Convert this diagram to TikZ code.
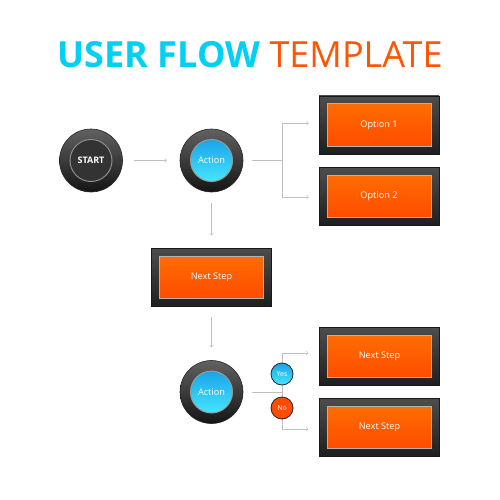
\documentclass[tikz,border=0pt]{standalone}
\usepackage{fontspec}
\setmainfont{Open Sans}
\usepackage{tikz}
\definecolor{titC}{HTML}{00D0F4}
\definecolor{titO}{HTML}{FF5500}
\definecolor{actT}{HTML}{1AA4E8}
\definecolor{actB}{HTML}{44E6FF}
\definecolor{orT}{HTML}{FF6C00}
\definecolor{orB}{HTML}{FF4C00}

\begin{document}
\begin{tikzpicture}[x=1pt,y=-1pt,
  ring/.style={circle,minimum size=63pt,inner sep=0pt,top color=black!62,bottom color=black!92,draw=black!85,line width=.6pt},
  knob/.style={circle,minimum size=42pt,inner sep=0pt,fill=black!80,draw=black!45,line width=1pt,text=white,font=\fontsize{9}{10}\selectfont\bfseries},
  act/.style={circle,minimum size=42pt,inner sep=0pt,top color=actT,bottom color=actB,draw=black!40,line width=1pt,text=white,font=\fontsize{9.2}{10}\selectfont},
  frame/.style={minimum width=120pt,minimum height=58pt,inner sep=0pt,top color=black!70,bottom color=black!88,draw=black!90},
  plate/.style={minimum width=104pt,minimum height=42pt,inner sep=0pt,top color=orT,bottom color=orB,draw=black!30,line width=1pt,text=white,font=\fontsize{9.2}{10}\selectfont},
  tag/.style={circle,minimum size=22pt,inner sep=0pt,draw=black!85,line width=.8pt,text=white,font=\fontsize{7}{8}\selectfont},
  line/.style={draw=black!25,line width=.6pt},
  conn/.style={line,->}]
\useasboundingbox[fill=white] (0,0) rectangle (500,500);
\node[anchor=base] (t) at (250,68) {\fontsize{36}{40}\selectfont\textbf{\color{titC}USER FLOW} \color{titO}TEMPLATE};
\node[ring] (s) at (91,160.5) {};
\node[knob] (sk) at (s) {START};
\node[ring] (a) at (211.5,160.5) {};
\node[act] (ak) at (a) {Action};
\node[frame] (o1) at (379,125) {};
\node[plate] (o1p) at (o1) {Option 1};
\node[frame] (o2) at (379,196) {};
\node[plate] (o2p) at (o2) {Option 2};
\node[frame] (n) at (211.5,277.5) {};
\node[plate] (np) at (n) {Next Step};
\node[ring] (b) at (211.5,392) {};
\node[act] (bk) at (b) {Action};
\node[frame] (y1) at (379.5,356.5) {};
\node[plate] (y1p) at (y1) {Next Step};
\node[frame] (y2) at (379.5,427.5) {};
\node[plate] (y2p) at (y2) {Next Step};
\coordinate (j) at (282,160.5);
\coordinate (k) at (282,392);
\draw[conn,shorten <=11pt,shorten >=13pt] (s) -- (a);
\draw[line,shorten <=9pt] (a) -- (j);
\draw[conn,shorten >=10pt] (j) |- ([yshift=2pt]o1.west);
\draw[conn,shorten >=10pt] (j) |- ([yshift=-1pt]o2.west);
\draw[conn,shorten <=11pt,shorten >=13pt] (a) -- (n);
\draw[conn,shorten <=10pt,shorten >=13pt] (n) -- (b);
\draw[line,shorten <=9pt] (b) -- (k);
\draw[conn,shorten >=11pt] (k) |- ([yshift=3.5pt]y1.west);
\draw[conn,shorten >=11pt] (k) |- ([yshift=-1.5pt]y2.west);
\node[tag,top color=actT,bottom color=actB] (yes) at (282,374) {Yes};
\node[tag,fill=orB] (no) at (282,408) {No};
\end{tikzpicture}
\end{document}
